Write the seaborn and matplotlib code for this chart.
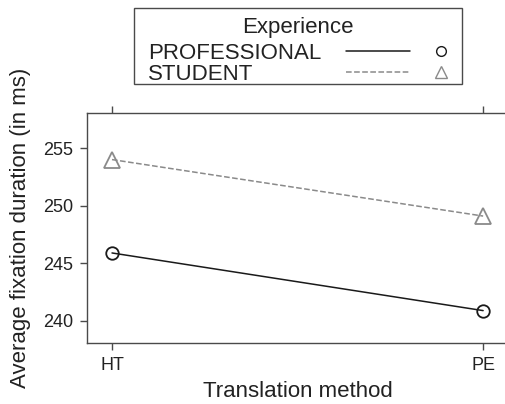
import pandas as pd
import numpy as np
import seaborn as sns
import matplotlib
matplotlib.use("Agg")
import matplotlib.pyplot as plt
from matplotlib.lines import Line2D
from matplotlib.patches import Rectangle
from matplotlib.legend_handler import HandlerBase

# data
methods = ["HT", "PE"]
professional = [245.9, 240.9]
student = [254.0, 249.1]
groups = ["PROFESSIONAL", "STUDENT"]

df = pd.DataFrame({
    "method": methods * 2,
    "duration": professional + student,
    "experience": [groups[0]] * 2 + [groups[1]] * 2,
})

sns.set_style("ticks")
plt.rcParams["font.family"] = ["Liberation Sans", "DejaVu Sans"]

line_col = "#1a1a1a"
stud_col = "#8a8a8a"
spine_col = "#4a4a4a"

fig = plt.figure(figsize=(5.06, 4.04), dpi=100)
ax = fig.add_axes([87 / 506, 1 - 343 / 404, 421 / 506, 230 / 404])

sns.pointplot(data=df, x="method", y="duration", hue="experience",
              palette=[line_col, stud_col], markers=["o", "^"],
              linestyles=["-", "--"], errorbar=None, ax=ax,
              markersize=9, linewidth=1.1)

# open markers
for ln in ax.lines:
    ln.set_markerfacecolor("none")
    ln.set_markeredgewidth(1.3)
    if ln.get_marker() == "^":
        ln.set_markersize(11)
ax.get_legend().remove()

ax.set_xlim(-0.0674, 1.067)
ax.set_ylim(238.09, 258.04)
ax.set_yticks([240, 245, 250, 255])

for s in ax.spines.values():
    s.set_color(spine_col)
    s.set_linewidth(1.0)
ax.spines["right"].set_visible(False)

ax.tick_params(axis="x", top=True, direction="out", length=5, width=1.0,
               color=spine_col, labelsize=13, pad=5, labelcolor="#222")
ax.tick_params(axis="y", direction="out", length=5, width=1.0,
               color=spine_col, labelsize=13, pad=5, labelcolor="#222")

ax.set_xlabel("Translation method", fontsize=16, color="#222", labelpad=5)
ax.set_ylabel("Average fixation duration (in ms)", fontsize=16, color="#222")
ax.yaxis.set_label_coords(-0.134, 0.5)


# legend: label, then the line, then the marker
class LineMarkerHandler(HandlerBase):
    def create_artists(self, legend, orig, xdescent, ydescent, width, height, fontsize, trans):
        y = height / 2 - ydescent
        x0 = -xdescent
        seg = Line2D([x0, x0 + 0.64 * width], [y, y], color=orig.get_color(),
                     linestyle=orig.get_linestyle(), linewidth=orig.get_linewidth())
        mk = Line2D([x0 + 0.94 * width], [y], marker=orig.get_marker(),
                    markersize=orig.get_markersize(), markerfacecolor="none",
                    markeredgecolor=orig.get_color(), markeredgewidth=1.0, linestyle="none")
        seg.set_transform(trans)
        mk.set_transform(trans)
        return [seg, mk]


handles = [
    Line2D([], [], color=line_col, linestyle="-", linewidth=1.1, marker="o", markersize=7),
    Line2D([], [], color=stud_col, linestyle=(0, (4, 3)), linewidth=1.1, marker="^", markersize=9),
]
leg = fig.legend(handles, groups, title="Experience", loc="upper left",
                 bbox_to_anchor=(148 / 506, 1 - 17 / 404), borderaxespad=0,
                 markerfirst=False, fontsize=16, title_fontsize=16,
                 handlelength=4.55, handletextpad=1.1, labelspacing=0.0,
                 borderpad=0, frameon=False,
                 handler_map={Line2D: LineMarkerHandler()})
leg._legend_box.sep = 3.5
for t in leg.get_texts():
    t.set_color("#222")
leg.get_title().set_color("#222")

# labels are right-aligned when markerfirst=False; push them back to the left
r = fig.canvas.get_renderer()
widths = [t.get_window_extent(r).width for t in leg.get_texts()]
for t, w in zip(leg.get_texts(), widths):
    t.set_x(-(max(widths) - w))

# legend frame
fig.patches.append(Rectangle((134 / 506, 1 - 84 / 404), 328 / 506, 76 / 404,
                             transform=fig.transFigure, fill=False,
                             edgecolor=spine_col, linewidth=1.0))

fig.savefig("out.png", dpi=100)
